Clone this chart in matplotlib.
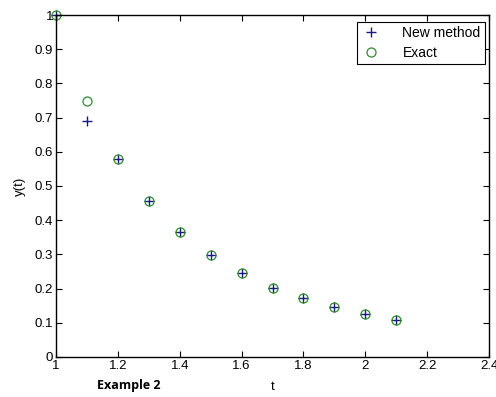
import matplotlib.pyplot as plt

# datos
t = [1.0, 1.1, 1.2, 1.3, 1.4, 1.5, 1.6, 1.7, 1.8, 1.9, 2.0, 2.1]
y_new = [1.0, 0.69, 0.578, 0.455, 0.365, 0.297, 0.245, 0.203, 0.172, 0.145, 0.125, 0.107]
y_exact = [1.0, 0.75, 0.578, 0.455, 0.365, 0.297, 0.245, 0.203, 0.172, 0.145, 0.125, 0.107]
xticks = [1, 1.2, 1.4, 1.6, 1.8, 2, 2.2, 2.4]
yticks = [0, 0.1, 0.2, 0.3, 0.4, 0.5, 0.6, 0.7, 0.8, 0.9, 1]

plt.rcParams['font.family'] = ['Liberation Sans', 'DejaVu Sans']

fig = plt.figure(figsize=(4.96, 3.97), dpi=100)
ax = fig.add_axes([0.113, 0.1008, 0.873, 0.8614])

ax.plot(t, y_new, '+', color='#1a1a80', markersize=7, markeredgewidth=1.0,
        label='New method', clip_on=False)
ax.plot(t, y_exact, 'o', markerfacecolor='none', markeredgecolor='#2e8b2e',
        markersize=6.5, markeredgewidth=0.9, label='Exact', clip_on=False)

ax.set_xlim(1, 2.4)
ax.set_ylim(0, 1)
ax.set_xticks(xticks)
ax.set_xticklabels(['1', '1.2', '1.4', '1.6', '1.8', '2', '2.2', '2.4'])
ax.set_yticks(yticks)
ax.set_yticklabels(['0', '0.1', '0.2', '0.3', '0.4', '0.5', '0.6', '0.7', '0.8', '0.9', '1'])
ax.tick_params(direction='in', top=True, right=True, labelsize=9.5, length=4, pad=2)
for s in ax.spines.values():
    s.set_linewidth(1.0)

ax.set_xlabel('t', fontsize=9.5, labelpad=7)
ax.set_ylabel('y(t)', fontsize=9.5, labelpad=6)

fig.text(0.195, 0.02, 'Example 2', fontsize=9, fontweight='bold', family='Open Sans')

leg = ax.legend(loc='upper right', bbox_to_anchor=(0.99, 0.98), fontsize=10,
                fancybox=False, framealpha=1, edgecolor='black',
                handlelength=1.5, handletextpad=1.5, borderpad=0.3,
                labelspacing=0.4, borderaxespad=0.0)
leg.get_frame().set_linewidth(0.8)

plt.savefig('out.png', dpi=100)
